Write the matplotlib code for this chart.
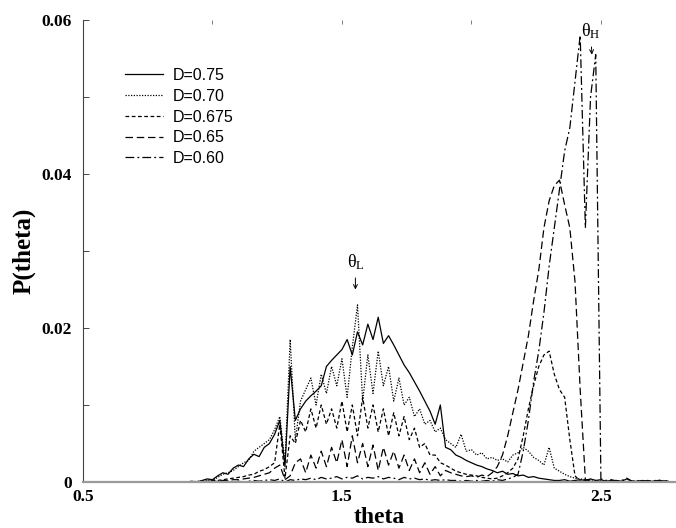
import numpy as np
import matplotlib
matplotlib.use("Agg")
import matplotlib.pyplot as plt

# bin centres of the histogram
theta = np.round(np.arange(0.90, 2.77, 0.02), 2)

# P(theta), in units of 1e-4 (10 bins per row)
p_075 = [0, 1, 0, 2, 4, 3, 8, 12, 10, 18,
         22, 20, 30, 36, 33, 45, 50, 62, 80, 20,
         150, 80, 95, 105, 112, 118, 125, 150, 158, 165,
         172, 185, 165, 195, 178, 205, 185, 214, 180, 190,
         178, 165, 152, 142, 130, 118, 105, 92, 75, 100,
         45, 42, 35, 32, 28, 25, 22, 20, 17, 15,
         12, 14, 10, 11, 8, 9, 6, 7, 5, 4,
         3, 2, 2, 3, 1, 2, 3, 2, 4, 2,
         3, 1, 2, 2, 1, 4, 1, 1, 2, 1,
         1, 2, 1, 1]
p_070 = [0, 0, 1, 1, 3, 2, 6, 10, 12, 15,
         20, 25, 28, 40, 45, 50, 55, 68, 85, 25,
         185, 55, 105, 120, 135, 100, 140, 115, 150, 125,
         160, 110, 175, 230, 105, 165, 115, 170, 125, 150,
         105, 135, 100, 110, 85, 95, 75, 80, 65, 70,
         55, 50, 45, 62, 40, 42, 35, 38, 30, 32,
         28, 30, 26, 35, 38, 45, 40, 32, 28, 22,
         45, 18, 14, 10, 7, 5, 4, 3, 3, 2,
         1, 1, 0, 1, 0, 1, 0, 0, 1, 0,
         0, 0, 1, 0]
p_0675 = [0, 0, 0, 1, 1, 2, 2, 3, 4, 5,
          6, 7, 9, 10, 14, 16, 20, 25, 75, 5,
          60, 50, 80, 65, 95, 70, 100, 75, 95, 70,
          105, 65, 100, 60, 110, 70, 100, 65, 95, 60,
          90, 60, 85, 55, 70, 45, 50, 35, 35, 25,
          22, 18, 14, 12, 10, 9, 8, 6, 5, 4,
          5, 8, 12, 18, 30, 60, 95, 125, 150, 165,
          170, 140, 120, 110, 55, 8, 1, 0, 1, 0,
          0, 0, 1, 0, 0, 0, 1, 0, 0, 0,
          0, 0, 0, 0]
p_065 = [0, 0, 0, 0, 1, 1, 1, 2, 2, 3,
         3, 4, 5, 6, 8, 10, 12, 18, 22, 3,
         8, 25, 30, 12, 35, 18, 40, 20, 45, 25,
         55, 20, 60, 25, 50, 20, 48, 15, 45, 22,
         40, 18, 35, 15, 30, 12, 25, 10, 20, 8,
         15, 12, 10, 8, 7, 8, 6, 9, 7, 12,
         20, 35, 60, 90, 120, 155, 190, 235, 275, 330,
         365, 385, 392, 360, 330, 260, 120, 3, 1, 0,
         1, 0, 0, 1, 0, 0, 0, 0, 1, 0,
         0, 0, 0, 0]
p_060 = [0, 0, 0, 0, 0, 1, 0, 0, 1, 0,
         1, 0, 1, 2, 1, 2, 3, 2, 4, 0,
         3, 2, 4, 3, 5, 3, 6, 4, 5, 7,
         4, 6, 5, 8, 4, 6, 5, 7, 4, 6,
         5, 3, 6, 4, 5, 3, 4, 2, 3, 2,
         3, 2, 2, 1, 2, 1, 2, 1, 2, 1,
         3, 2, 4, 6, 10, 40, 80, 130, 170, 220,
         280, 330, 380, 430, 460, 520, 580, 330, 500, 555,
         4, 2, 3, 1, 2, 5, 1, 2, 1, 2,
         1, 3, 1, 2]

labels = ['D=0.75', 'D=0.70', 'D=0.675', 'D=0.65', 'D=0.60']
series = [p_075, p_070, p_0675, p_065, p_060]
styles = ['-', (0, (1, 1.2)), (0, (3, 2)), (0, (6, 3)), (0, (7, 2.5, 1.5, 2.5))]

fig = plt.figure(figsize=(6.76, 5.28), dpi=100)
ax = fig.add_axes([83/676, 46/528, 593/676, 462/528])

for vals, ls, lab in zip(series, styles, labels):
    ax.plot(theta, np.array(vals) * 1e-4, color='black', lw=0.9, linestyle=ls, label=lab)

ax.set_xlim(0.5, 2.79)
ax.set_ylim(0, 0.06)

for s in ['top', 'right']:
    ax.spines[s].set_visible(False)
ax.spines['bottom'].set_color('#9a9a9a')
ax.spines['bottom'].set_linewidth(1.6)
ax.spines['left'].set_color('#444444')
ax.spines['left'].set_linewidth(0.8)

ax.set_xticks([0.5, 1.5, 2.5])
ax.set_xticklabels(['0.5', '1.5', '2.5'])
ax.set_xticks([1.0, 2.0], minor=True)
ax.set_yticks([0, 0.02, 0.04, 0.06])
ax.set_yticklabels(['0', '0.02', '0.04', '0.06'])
ax.set_yticks([0.01, 0.03, 0.05], minor=True)

ax.tick_params(axis='x', which='both', bottom=False, top=True, direction='in',
               length=3, width=0.6, color='#666666', pad=5)
ax.tick_params(axis='y', which='both', direction='in', length=4, width=0.7,
               color='#444444', pad=8)
for t in ax.get_xticklabels() + ax.get_yticklabels():
    t.set_fontfamily('Liberation Serif')
    t.set_fontweight('bold')
    t.set_fontsize(12.5)

ax.set_xlabel('theta', fontfamily='Liberation Serif', fontweight='bold', fontsize=17)
ax.xaxis.set_label_coords(0.5, -0.055)
ax.set_ylabel('P(theta)', fontfamily='Liberation Serif', fontweight='bold', fontsize=18)
ax.yaxis.set_label_coords(-0.08, 0.5)

ax.legend(loc='upper left', bbox_to_anchor=(0.07, 0.896), frameon=False,
          prop={'family': 'Liberation Sans', 'size': 11.5},
          handlelength=2.4, handletextpad=0.6, labelspacing=0.36,
          borderpad=0, borderaxespad=0)

arrow = dict(arrowstyle='->', lw=0.7, color='black', mutation_scale=7,
             shrinkA=2, shrinkB=0)
ax.annotate(r'$\mathregular{θ_{L}}$', xy=(1.552, 0.0250), xytext=(1.552, 0.0285),
            ha='center', va='center', fontsize=13, fontfamily='Liberation Serif',
            arrowprops=arrow)
ax.annotate(r'$\mathregular{θ_{H}}$', xy=(2.465, 0.0555), xytext=(2.461, 0.0585),
            ha='center', va='center', fontsize=13, fontfamily='Liberation Serif',
            arrowprops=arrow, annotation_clip=False)

fig.savefig('out.png', dpi=100)
